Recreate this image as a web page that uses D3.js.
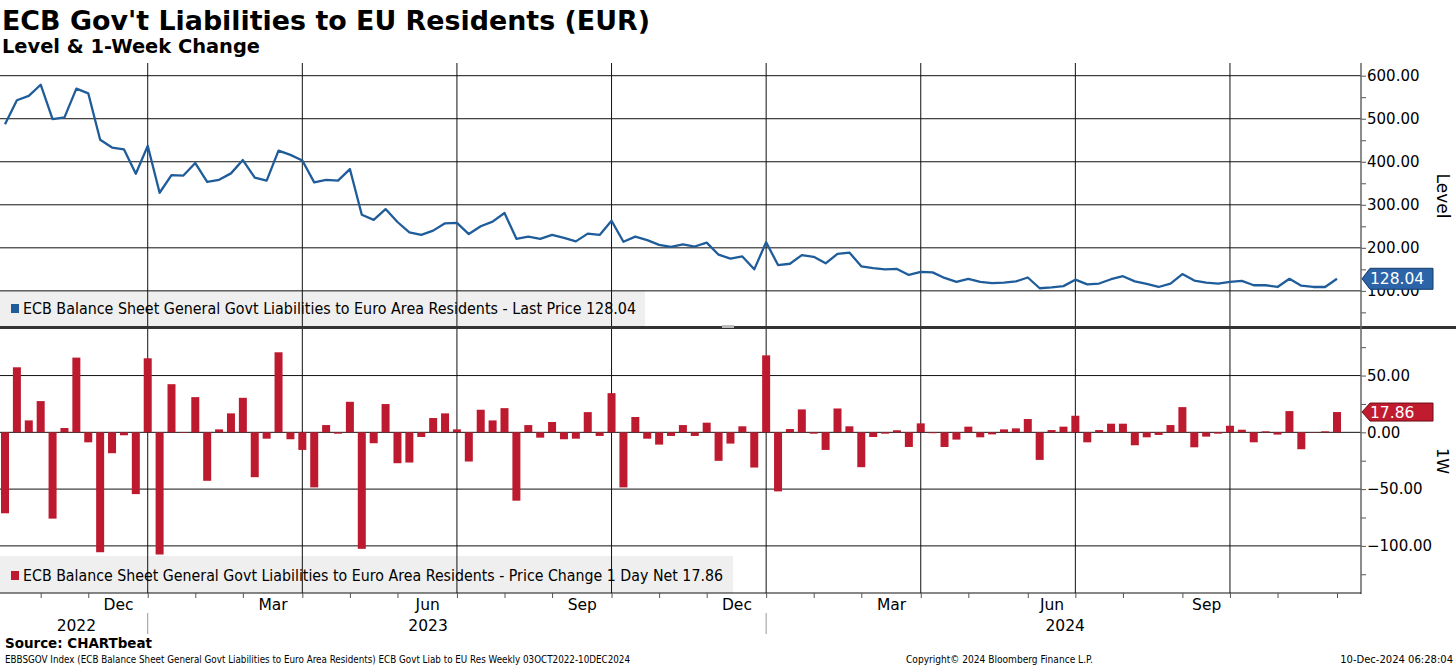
<!DOCTYPE html>
<html>
<head>
<meta charset="utf-8">
<script src="https://cdn.jsdelivr.net/npm/d3@7"></script>
<style>
  body { margin: 0; background: #fff; }
  text { font-family: "DejaVu Sans", sans-serif; fill: #000; }
</style>
</head>
<body>
<svg id="chart" width="1456" height="666"></svg>
<script>
// weekly observations (Fridays), 07 Oct 2022 .. 29 Nov 2024
const firstWeek = new Date(2022, 9, 7);
const lastWeek = new Date(2024, 10, 30);

// level (EUR bn)
const levels = [
  487, 543, 553, 579, 499, 503, 570, 559, 451, 433,
  429, 372, 437, 328, 369, 368, 397, 353, 358, 373,
  404, 363, 356, 426, 416, 403, 352, 358, 356, 383,
  277, 265, 290, 260, 236, 230, 240, 257, 258, 232,
  250, 261, 281, 221, 226, 221, 230, 223, 215, 233,
  230, 263, 214, 226, 218, 207, 202, 208, 203, 212,
  184, 175, 180, 150, 213, 160, 163, 183, 179, 164,
  186, 189, 157, 153, 150, 151, 137, 144, 143, 130,
  121, 128, 121, 118, 119, 122, 131, 106, 108, 111,
  126, 115, 117, 127, 134, 122, 116, 109, 117, 139,
  124, 119, 117, 121, 123, 113, 113, 109, 128, 112,
  109, 109, 128.04
];

// 1-week change
const changes = [
  -71.3, 57.3, 10.5, 27.5, -76.0, 3.8, 65.8, -8.8, -105.6, -18.4,
  -2.6, -54.4, 65.2, -107.6, 42.4, -0.5, 31.0, -42.7, 2.6, 16.7,
  30.4, -39.5, -5.6, 70.5, -6.1, -15.5, -48.5, 6.4, -1.2, 26.9,
  -102.6, -9.6, 24.9, -27.2, -26.6, -4.1, 12.6, 16.7, 2.6, -25.7,
  19.9, 10.5, 21.3, -60.2, 6.4, -4.7, 9.1, -6.1, -5.6, 17.8,
  -3.2, 34.5, -48.5, 13.5, -5.6, -10.8, -3.2, 6.4, -3.2, 8.5,
  -25.1, -9.9, 5.3, -31.0, 67.8, -52.0, 2.9, 20.2, -1.2, -15.5,
  21.0, 5.3, -30.7, -4.1, -1.2, 1.8, -12.9, 7.9, -0.8, -12.9,
  -6.4, 5.0, -4.4, -1.8, 2.6, 3.5, 11.7, -24.3, 2.0, 5.0,
  14.6, -8.8, 2.0, 7.6, 7.6, -11.4, -4.4, -2.3, 6.4, 22.2,
  -13.2, -3.8, -1.2, 5.8, 2.3, -8.8, 0.9, -2.0, 18.7, -14.9,
  -0.3, 0.9, 17.86
];

const levelTicks = [100, 200, 300, 400, 500, 600];
const levelMinorTicks = [50, 150, 250, 350, 450, 550];
const changeTicks = [-100, -50, 0, 50];
const changeMinorTicks = [-125, -75, -25, 25, 75];
const labelMonths = ["2022-12-01", "2023-03-01", "2023-06-01", "2023-09-01",
                     "2023-12-01", "2024-03-01", "2024-06-01", "2024-09-01"];
const yearLabels = ["2022", "2023", "2024"];
const yearLabelDates = ["2022-11-18", "2023-06-13", "2024-06-22"];

const parse = d3.timeParse("%Y-%m-%d");
const weeks = d3.timeFriday.range(firstWeek, lastWeek);
const lineData = weeks.map((d, i) => ({ date: d, value: levels[i] }));
const barData = weeks.map((d, i) => ({ date: d, value: changes[i] }));

const svg = d3.select("#chart");
const axisX = 1361;
const blue = "#1f5c9a";
const red = "#be1a2f";

const x = d3.scaleTime()
  .domain([new Date(2022, 9, 4, 1, 21), new Date(2024, 11, 13, 3)])
  .range([0, axisX]);
const yTop = d3.scaleLinear().domain([16, 629.5]).range([327, 63]);
const yBot = d3.scaleLinear().domain([-141.5, 91]).range([593, 329]);

// period boundaries sit on the last observation before the new period
const boundary = d => d3.timeFriday.floor(new Date(+d - 1));

// legend boxes sit under the grid
svg.append("rect").attr("x", 0).attr("y", yTop(100)).attr("width", 645)
  .attr("height", 327 - yTop(100)).attr("fill", "#efefef");
svg.append("rect").attr("x", 0).attr("y", 556).attr("width", 733)
  .attr("height", 37).attr("fill", "#efefef");

// grid
const grid = svg.append("g").attr("stroke", "#111").attr("stroke-width", 1);
grid.selectAll(".hTop").data(levelTicks).join("line")
  .attr("x1", 0).attr("x2", axisX)
  .attr("y1", d => yTop(d)).attr("y2", d => yTop(d));
grid.selectAll(".hBot").data(changeTicks).join("line")
  .attr("x1", 0).attr("x2", axisX)
  .attr("y1", d => yBot(d)).attr("y2", d => yBot(d));
const quarters = d3.timeMonth.every(3).range(new Date(2023, 0, 1), new Date(2024, 11, 1));
grid.selectAll(".v").data(quarters).join("line")
  .attr("x1", d => x(boundary(d))).attr("x2", d => x(boundary(d)))
  .attr("y1", 63).attr("y2", 593);

// level line
svg.append("path")
  .datum(lineData)
  .attr("fill", "none")
  .attr("stroke", blue)
  .attr("stroke-width", 2.3)
  .attr("stroke-linejoin", "round")
  .attr("d", d3.line().x(d => x(d.date)).y(d => yTop(d.value)));

// change bars
svg.selectAll(".bar").data(barData).join("rect")
  .attr("x", d => x(d.date) - 4)
  .attr("width", 8)
  .attr("y", d => Math.min(yBot(d.value), yBot(0)))
  .attr("height", d => Math.abs(yBot(d.value) - yBot(0)))
  .attr("fill", red);

// panel separator + splitter handle
svg.append("rect").attr("x", 0).attr("y", 326).attr("width", 1456).attr("height", 3).attr("fill", "#333");
svg.append("rect").attr("x", 722).attr("y", 325).attr("width", 12).attr("height", 3).attr("fill", "#bbb");

// right axes
function styleAxis(g) {
  g.select(".domain").remove();
  g.selectAll(".tick line").attr("stroke", "#555");
  g.selectAll(".tick text").attr("font-size", 15).attr("fill", "#000")
    .style("font-family", "DejaVu Sans");
}
svg.append("g").attr("transform", `translate(${axisX},0)`)
  .call(d3.axisRight(yTop).tickValues(levelTicks).tickFormat(d3.format(".2f")).tickSize(5).tickPadding(1))
  .call(styleAxis);
svg.append("g").attr("transform", `translate(${axisX},0)`)
  .call(d3.axisRight(yTop).tickValues(levelMinorTicks).tickFormat("").tickSize(5))
  .call(styleAxis);
svg.append("g").attr("transform", `translate(${axisX},0)`)
  .call(d3.axisRight(yBot).tickValues(changeTicks).tickFormat(d3.format(".2f")).tickSize(5).tickPadding(1))
  .call(styleAxis);
svg.append("g").attr("transform", `translate(${axisX},0)`)
  .call(d3.axisRight(yBot).tickValues(changeMinorTicks).tickFormat("").tickSize(5))
  .call(styleAxis);
svg.append("line").attr("x1", axisX).attr("x2", axisX).attr("y1", 63).attr("y2", 594)
  .attr("stroke", "#666").attr("stroke-width", 1.5);

svg.append("text").attr("transform", "translate(1437,196) rotate(90)")
  .attr("text-anchor", "middle").attr("font-size", 17).text("Level");
svg.append("text").attr("transform", "translate(1437,461) rotate(90)")
  .attr("text-anchor", "middle").attr("font-size", 16).text("1W");

// last value tags
function tag(yc, h, fill, stroke, label) {
  const t = yc - h / 2, b = yc + h / 2;
  svg.append("path")
    .attr("d", `M${axisX + 1},${yc} L${axisX + 9},${t} L1433,${t} L1433,${b} L${axisX + 9},${b} Z`)
    .attr("fill", fill).attr("stroke", stroke).attr("stroke-width", 1);
  svg.append("text").attr("x", 1370).attr("y", yc + 5.5)
    .attr("font-size", 15.5).style("fill", "#fff").text(label);
}
tag(yTop(levels[levels.length - 1]), 21, "#2b64a8", "#163a66", d3.format(".2f")(levels[levels.length - 1]));
tag(yBot(changes[changes.length - 1]), 18, "#c11b30", "#6a0e18", d3.format(".2f")(changes[changes.length - 1]));

// x axis
svg.append("line").attr("x1", 0).attr("x2", axisX).attr("y1", 593).attr("y2", 593)
  .attr("stroke", "#111");
const monthStarts = d3.timeMonth.range(new Date(2022, 10, 1), new Date(2024, 11, 2));
svg.append("g").attr("transform", "translate(0,593)")
  .call(d3.axisBottom(x).tickValues(monthStarts.map(boundary)).tickFormat("").tickSize(5))
  .call(g => { g.select(".domain").remove(); g.selectAll(".tick line").attr("stroke", "#555"); });

// month name centred between its two boundaries
const monthMid = labelMonths.map(s => {
  const a = boundary(parse(s)), b = boundary(d3.timeMonth.offset(parse(s), 1));
  return new Date((+a + +b) / 2);
});
const monthFmt = d3.timeFormat("%b");
svg.append("g").attr("transform", "translate(0,598)")
  .call(d3.axisBottom(x).tickValues(monthMid)
    .tickFormat(d => monthFmt(d3.timeMonth.floor(d3.timeDay.offset(d, 7)))).tickSize(0).tickPadding(0))
  .call(g => {
    g.select(".domain").remove();
    g.selectAll(".tick text").attr("font-size", 15.5).attr("dy", "0.75em")
      .style("font-family", "DejaVu Sans").attr("fill", "#000");
  });
svg.selectAll(".yearLab").data(yearLabels).join("text")
  .attr("x", (d, i) => x(parse(yearLabelDates[i])))
  .attr("y", 631)
  .attr("text-anchor", "middle")
  .attr("font-size", 15.5)
  .text(d => d);
svg.selectAll(".yearSep").data([new Date(2023, 0, 1), new Date(2024, 0, 1)]).join("line")
  .attr("x1", d => x(boundary(d))).attr("x2", d => x(boundary(d)))
  .attr("y1", 613).attr("y2", 634)
  .attr("stroke", "#999");

// legends
svg.append("rect").attr("x", 11).attr("y", 304).attr("width", 8).attr("height", 9).attr("fill", blue);
svg.append("text").attr("x", 23).attr("y", 314).attr("font-size", 15.5)
  .attr("textLength", 613).attr("lengthAdjust", "spacingAndGlyphs")
  .text("ECB Balance Sheet General Govt Liabilities to Euro Area Residents - Last Price " + d3.format(".2f")(levels[levels.length - 1]));
svg.append("rect").attr("x", 11).attr("y", 571).attr("width", 8).attr("height", 9).attr("fill", red);
svg.append("text").attr("x", 23).attr("y", 581).attr("font-size", 15.5)
  .attr("textLength", 700).attr("lengthAdjust", "spacingAndGlyphs")
  .text("ECB Balance Sheet General Govt Liabilities to Euro Area Residents - Price Change 1 Day Net " + d3.format(".2f")(changes[changes.length - 1]));

// titles
svg.append("text").attr("x", 2).attr("y", 30).attr("font-size", 27).attr("font-weight", "bold")
  .attr("textLength", 648).attr("lengthAdjust", "spacingAndGlyphs")
  .text("ECB Gov't Liabilities to EU Residents (EUR)");
svg.append("text").attr("x", 2).attr("y", 53).attr("font-size", 19).attr("font-weight", "bold")
  .attr("textLength", 258).attr("lengthAdjust", "spacingAndGlyphs")
  .text("Level & 1-Week Change");

// footer
svg.append("text").attr("x", 5).attr("y", 648).attr("font-size", 14).attr("font-weight", "bold")
  .attr("textLength", 147).attr("lengthAdjust", "spacingAndGlyphs")
  .text("Source: CHARTbeat");
svg.append("text").attr("x", 5).attr("y", 663).attr("font-size", 10)
  .attr("textLength", 625).attr("lengthAdjust", "spacingAndGlyphs")
  .text("EBBSGOV Index (ECB Balance Sheet General Govt Liabilities to Euro Area Residents) ECB Govt Liab to EU Res  Weekly 03OCT2022-10DEC2024");
svg.append("text").attr("x", 906).attr("y", 663).attr("font-size", 10)
  .attr("textLength", 187).attr("lengthAdjust", "spacingAndGlyphs")
  .text("Copyright\u00a9 2024 Bloomberg Finance L.P.");
svg.append("text").attr("x", 1453).attr("y", 663).attr("font-size", 10)
  .attr("text-anchor", "end")
  .text("10-Dec-2024 06:28:04");
</script>
</body>
</html>
